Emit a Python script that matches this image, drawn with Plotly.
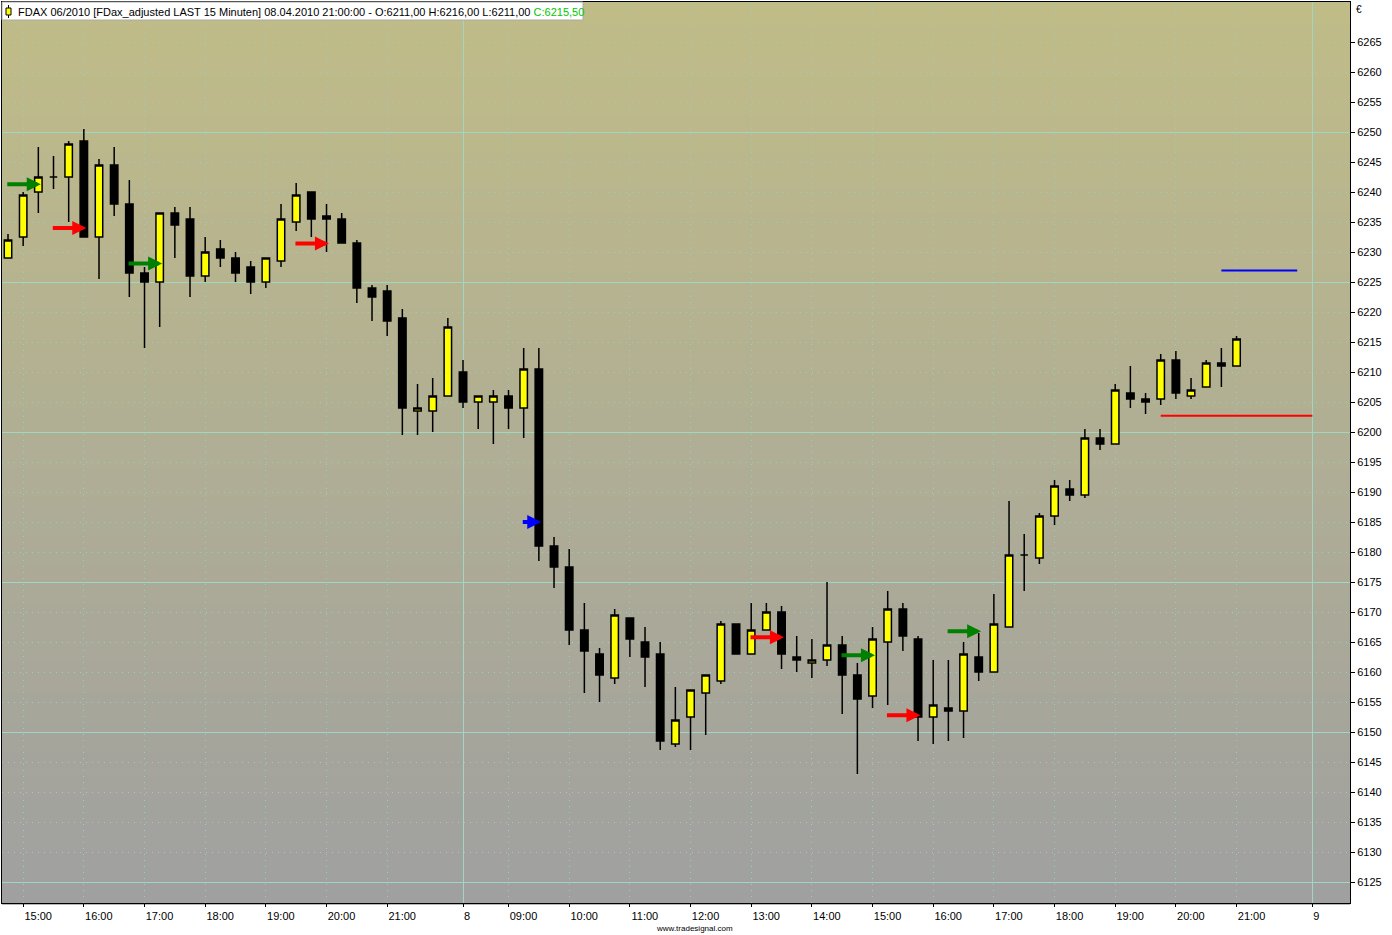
import plotly.graph_objects as go

# ---------------- data ----------------
# bar index: 0 = 14:45 (07.04.2010) ... 29 = 22:00, 30 = 08:15 (08.04.2010) ... 81 = 21:00
bar_index = list(range(82))
open_ = [6229, 6232.5, 6240, 6242.5, 6242.5, 6248.5, 6232.5, 6244.5, 6238, 6226.5,
         6225, 6236.5, 6235.5, 6226, 6230.5, 6229, 6227.5, 6225, 6228.5, 6235,
         6240, 6236, 6235.5, 6231.5, 6224, 6223.5, 6219, 6203.5, 6203.5, 6206,
         6210, 6205, 6205, 6206, 6204, 6210.5, 6181, 6177.5, 6167, 6163,
         6159, 6169, 6165, 6163, 6148, 6152.5, 6156.5, 6158.5, 6168, 6163,
         6167, 6170, 6162.5, 6161.5, 6162, 6164.5, 6159.5, 6156, 6165, 6170.5,
         6165.5, 6152.5, 6154, 6153.5, 6162.5, 6160, 6167.5, 6179.5, 6179, 6186,
         6190.5, 6189.5, 6199, 6198, 6206.5, 6205.5, 6205.5, 6212, 6206, 6207.5,
         6211.5, 6211]
high = [6233, 6240, 6247.5, 6246, 6248.5, 6250.5, 6245.5, 6247.5, 6242, 6227.5,
        6236.5, 6237.5, 6237.5, 6232.5, 6232, 6230, 6228.5, 6229, 6238, 6241.5,
        6240, 6238, 6236.5, 6232, 6224.5, 6224.5, 6220.5, 6208, 6209, 6219,
        6212, 6206, 6207, 6207, 6214, 6214, 6182.5, 6180.5, 6171.5, 6164,
        6170.5, 6169, 6167.5, 6165, 6157.5, 6157, 6159.5, 6168.5, 6168, 6171.5,
        6171.5, 6171, 6166, 6165.5, 6175, 6166, 6161.5, 6167.5, 6173.5, 6171.5,
        6166, 6162, 6162, 6165, 6166.5, 6173, 6188.5, 6183, 6186.5, 6192,
        6192, 6200.5, 6200.5, 6208, 6211, 6206.5, 6213, 6213.5, 6209, 6212,
        6214, 6216]
low = [6229, 6231, 6236.5, 6240.5, 6235, 6232.5, 6225.5, 6236, 6222.5, 6214,
       6217.5, 6229, 6222.5, 6225, 6227.5, 6225, 6223, 6224, 6227.5, 6233.5,
       6232.5, 6230, 6231.5, 6221.5, 6218.5, 6216, 6199.5, 6199.5, 6200, 6206,
       6204, 6200.5, 6198, 6200.5, 6199, 6178.5, 6174, 6164.5, 6156.5, 6155,
       6158, 6162.5, 6157.5, 6147, 6147.5, 6147, 6149.5, 6158, 6163, 6163,
       6167, 6160.5, 6160, 6159, 6161, 6153, 6143, 6154, 6154.5, 6163.5,
       6148.5, 6148, 6148.5, 6149, 6158.5, 6160, 6167.5, 6173.5, 6178, 6184.5,
       6188.5, 6189, 6197, 6198, 6204, 6203, 6204.5, 6205.5, 6205.5, 6207.5,
       6207.5, 6211]
close = [6232, 6239.5, 6242.5, 6242.5, 6248, 6232.5, 6244.5, 6238, 6226.5, 6225,
         6236.5, 6234.5, 6226, 6230, 6229, 6226.5, 6225, 6229, 6235.5, 6239.5,
         6235.5, 6235.5, 6231.5, 6224, 6222.5, 6218.5, 6204, 6204, 6206, 6217.5,
         6205, 6206, 6206, 6204, 6210.5, 6181, 6177.5, 6167, 6163.5, 6159.5,
         6169.5, 6165.5, 6162.5, 6148.5, 6152, 6157, 6159.5, 6168, 6163, 6167,
         6170, 6163, 6162, 6162, 6164.5, 6159.5, 6155.5, 6165.5, 6170.5, 6166,
         6152.5, 6154.5, 6153.5, 6163, 6160, 6168, 6179.5, 6179.5, 6186, 6191,
         6189.5, 6199, 6198, 6207, 6205.5, 6205, 6212, 6206.5, 6207, 6211.5,
         6211, 6215.5]

x_tick_idx = [1, 5, 9, 13, 17, 21, 25, 33, 37, 41, 45, 49, 53, 57, 61, 65, 69, 73, 77, 81]
x_tick_txt = ['15:00', '16:00', '17:00', '18:00', '19:00', '20:00', '21:00',
              '09:00', '10:00', '11:00', '12:00', '13:00', '14:00', '15:00', '16:00',
              '17:00', '18:00', '19:00', '20:00', '21:00']
day_tick_idx = [30, 86]
day_tick_txt = ['8', '9']
y_tick_vals = list(range(6125, 6270, 5))
y_major_vals = [6125, 6150, 6175, 6200, 6225, 6250]

# signal arrows (bar index, price, kind)
arrow_idx = [2, 5, 10, 21, 35, 51, 57, 60, 64]
arrow_price = [6241.3, 6234.0, 6228.1, 6231.4, 6185.0, 6165.8, 6162.8, 6152.8, 6166.8]
arrow_kind = ['long', 'short', 'long', 'short', 'exit', 'short', 'long', 'short', 'long']

# horizontal levels
red_level_x = [76, 86]
red_level_y = [6202.7, 6202.7]
blue_level_x = [80, 85]
blue_level_y = [6226.9, 6226.9]

# ---------------- styling ----------------
FONT = 'Liberation Sans, Arial, sans-serif'
GRID_DOT = 'rgb(150,208,192)'
GRID_SOLID = 'rgb(160,214,196)'
ARROW_COL = {'long': 'rgb(0,128,0)', 'short': 'rgb(255,0,0)', 'exit': 'rgb(0,0,255)'}
ARROW_LEN = {'long': 35, 'short': 35, 'exit': 20}

fig = go.Figure()

fig.add_trace(go.Candlestick(
    x=bar_index, open=open_, high=high, low=low, close=close,
    increasing=dict(fillcolor='#FFFF00', line=dict(color='black', width=1.5)),
    decreasing=dict(fillcolor='#000000', line=dict(color='black', width=1.5)),
    whiskerwidth=0, hoverinfo='skip', showlegend=False,
))

fig.add_trace(go.Scatter(x=red_level_x, y=red_level_y, mode='lines',
                         line=dict(color='rgb(255,0,0)', width=2),
                         xaxis='x2', yaxis='y2', hoverinfo='skip', showlegend=False))
fig.add_trace(go.Scatter(x=blue_level_x, y=blue_level_y, mode='lines',
                         line=dict(color='rgb(0,0,255)', width=2),
                         xaxis='x2', yaxis='y2', hoverinfo='skip', showlegend=False))

for i, p, k in zip(arrow_idx, arrow_price, arrow_kind):
    fig.add_annotation(x=i + 0.16, y=p, xref='x', yref='y', text='',
                       showarrow=True, ax=-ARROW_LEN[k], ay=0,
                       arrowhead=2, arrowsize=0.7, arrowwidth=4,
                       arrowcolor=ARROW_COL[k])

# gradient background bands
N = 120
top = (192, 188, 136)
bot = (160, 160, 160)
shapes = []
for k in range(N):
    t = k / (N - 1)
    c = tuple(round(top[j] + (bot[j] - top[j]) * t) for j in range(3))
    shapes.append(dict(type='rect', xref='paper', yref='paper', x0=0, x1=1,
                       y0=1 - (k + 1) / N - 0.002, y1=1 - k / N,
                       fillcolor='rgb(%d,%d,%d)' % c, line=dict(width=0),
                       layer='below'))

# title box + icon
shapes.append(dict(type='rect', xref='paper', yref='paper', xsizemode='pixel',
                   ysizemode='pixel', xanchor=0, yanchor=1, x0=0, x1=581,
                   y0=-18, y1=0, fillcolor='white',
                   line=dict(color='rgb(170,170,170)', width=1), layer='above'))
shapes.append(dict(type='line', xref='paper', yref='paper', xsizemode='pixel',
                   ysizemode='pixel', xanchor=0, yanchor=1, x0=6.5, x1=6.5,
                   y0=-16, y1=-3, line=dict(color='black', width=1), layer='above'))
shapes.append(dict(type='rect', xref='paper', yref='paper', xsizemode='pixel',
                   ysizemode='pixel', xanchor=0, yanchor=1, x0=4, x1=9,
                   y0=-13, y1=-6, fillcolor='#FFFF00',
                   line=dict(color='black', width=1), layer='above'))

def fmt(v):
    return ('%.2f' % v).replace('.', ',')

title_txt = ('FDAX 06/2010 [FDax_adjusted LAST 15 Minuten] 08.04.2010 21:00:00 - '
             'O:%s H:%s L:%s <span style="color:rgb(0,200,0)">C:%s</span>'
             % (fmt(open_[-1]), fmt(high[-1]), fmt(low[-1]), fmt(close[-1])))
fig.add_annotation(xref='paper', yref='paper', x=0, y=1, xanchor='left', yanchor='top',
                   xshift=14, yshift=-2, text=title_txt, showarrow=False,
                   font=dict(family=FONT, size=11, color='black'))
fig.add_annotation(xref='paper', yref='paper', x=1, y=1, xanchor='left', yanchor='top',
                   xshift=4, yshift=0, text='€', showarrow=False,
                   font=dict(family=FONT, size=10, color='black'))
fig.add_annotation(xref='paper', yref='paper', x=0.5138, y=0, xanchor='center',
                   yanchor='middle', yshift=-25, text='www.tradesignal.com',
                   showarrow=False, font=dict(family=FONT, size=8, color='black'))

fig.update_layout(
    width=1392, height=935,
    margin=dict(l=2, r=42, t=2, b=32),
    paper_bgcolor='white', plot_bgcolor='rgba(0,0,0,0)',
    showlegend=False, shapes=shapes,
    font=dict(family=FONT, size=11, color='black'),
    xaxis=dict(range=[-0.396, 88.48], tickvals=x_tick_idx, ticktext=x_tick_txt,
               ticks='outside', ticklen=3, tickcolor='black', tickwidth=1,
               ticklabelshift=15, showgrid=True, gridcolor=GRID_DOT,
               griddash='1px,5px', gridwidth=1, showline=True, linecolor='black',
               linewidth=1, mirror=True, zeroline=False,
               rangeslider=dict(visible=False), fixedrange=True),
    xaxis2=dict(overlaying='x', matches='x', side='bottom', tickvals=day_tick_idx,
                ticktext=day_tick_txt, ticks='outside', ticklen=3, tickcolor='black',
                ticklabelshift=4, showgrid=True, gridcolor=GRID_SOLID, gridwidth=1,
                showline=False, zeroline=False, fixedrange=True),
    yaxis=dict(side='right', range=[6121.5, 6271.67], tickvals=y_tick_vals,
               ticktext=[str(v) for v in y_tick_vals], ticks='outside', ticklen=4,
               tickcolor='black', showgrid=True, gridcolor=GRID_DOT,
               griddash='1px,5px', gridwidth=1, showline=True, linecolor='black',
               linewidth=1, mirror=True, zeroline=False, fixedrange=True),
    yaxis2=dict(overlaying='y', matches='y', side='right', tickvals=y_major_vals,
                showticklabels=False, ticks='', showgrid=True, gridcolor=GRID_SOLID,
                gridwidth=1, zeroline=False, showline=False, fixedrange=True),
)

fig.write_html('out.html', config={'displayModeBar': False},
               post_script="document.body.style.margin='0';document.body.style.overflow='hidden';")
